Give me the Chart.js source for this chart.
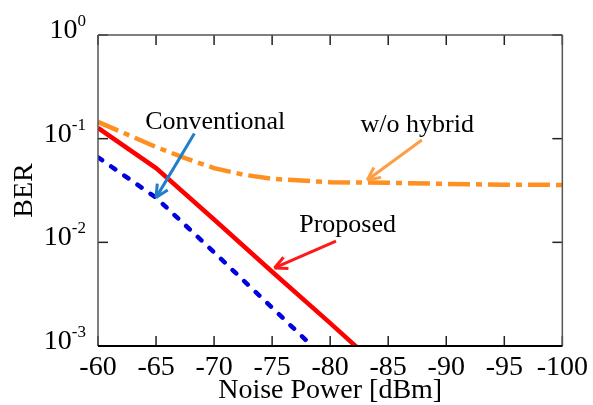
<!DOCTYPE html>
<html>
<head>
<meta charset="utf-8">
<script src="https://cdn.jsdelivr.net/npm/chart.js@4"></script>
<style>
  html, body { margin: 0; padding: 0; background: #fff; }
</style>
</head>
<body>
<canvas id="berChart" width="593" height="405"></canvas>
<script>
// Noise power (dBm) and BER
const noisePower = [-60, -65, -70, -75, -80, -85];
const proposedBer = [0.127, 0.052, 0.0166, 0.0052, 0.00166, 0.00052];
const conventionalBer = [0.066, 0.027, 0.008, 0.00234, 0.00068, 0.0002];
const hybridPower = [-60, -62.5, -65, -67.5, -70, -72.5, -75, -80, -85, -90, -95, -100];
const withoutHybridBer = [0.145, 0.11, 0.083, 0.065, 0.052, 0.045, 0.041, 0.038, 0.0375, 0.0366, 0.036, 0.0358];
const xTicks = [-60, -65, -70, -75, -80, -85, -90, -95, -100];
const yExponents = [0, -1, -2, -3];

// labels with arrows: text anchor and arrow tail/head, in data units
const notes = [
  { text: "Conventional", at: [-70.1, 0.124], from: [-68.3, 0.112], to: [-65.0, 0.027], color: "#1f7fc8" },
  { text: "w/o hybrid", at: [-87.5, 0.116], from: [-87.9, 0.097], to: [-83.2, 0.040], color: "#ff9d45" },
  { text: "Proposed", at: [-81.5, 0.0126], from: [-80.5, 0.0103], to: [-75.2, 0.00566], color: "#ff1a1a" },
];

const toPoints = (xs, ys) => xs.map((x, i) => ({ x: x, y: ys[i] }));
const serif = '"Liberation Serif", "DejaVu Serif", serif';

function line(ctx, x1, y1, x2, y2) {
  ctx.beginPath();
  ctx.moveTo(x1, y1);
  ctx.lineTo(x2, y2);
  ctx.stroke();
}

const framePlugin = {
  id: "frame",
  afterDatasetsDraw(chart) {
    const { ctx, chartArea: a, scales: { x, y } } = chart;
    ctx.save();

    // inward ticks on all four sides
    ctx.strokeStyle = "#222";
    ctx.lineWidth = 1.5;
    xTicks.forEach((v) => {
      const px = x.getPixelForValue(v);
      line(ctx, px, a.bottom, px, a.bottom - 10);
      line(ctx, px, a.top, px, a.top + 10);
    });
    yExponents.forEach((e) => {
      const py = y.getPixelForValue(Math.pow(10, e));
      line(ctx, a.left, py, a.left + 10, py);
      line(ctx, a.right, py, a.right - 10, py);
    });

    // box
    ctx.strokeStyle = "#555";
    line(ctx, a.left, a.top, a.right, a.top);
    line(ctx, a.left, a.top, a.left, a.bottom);
    line(ctx, a.right, a.top, a.right, a.bottom);
    ctx.strokeStyle = "#000";
    ctx.lineWidth = 2;
    line(ctx, a.left, a.bottom, a.right, a.bottom);

    // y tick labels as 10^n
    ctx.fillStyle = "#000";
    ctx.textAlign = "left";
    ctx.textBaseline = "alphabetic";
    yExponents.forEach((e) => {
      const py = y.getPixelForValue(Math.pow(10, e));
      const exp = e === 0 ? "0" : "-" + -e;
      ctx.font = "17px " + serif;
      const ew = ctx.measureText(exp).width;
      ctx.font = "28px " + serif;
      const bw = ctx.measureText("10").width;
      const right = a.left - 12;
      ctx.fillText("10", right - ew - bw, py + 3);
      ctx.font = "17px " + serif;
      ctx.fillText(exp, right - ew, py - 9);
    });

    // annotations
    notes.forEach((n) => {
      const x1 = x.getPixelForValue(n.from[0]), y1 = y.getPixelForValue(n.from[1]);
      const x2 = x.getPixelForValue(n.to[0]), y2 = y.getPixelForValue(n.to[1]);
      ctx.strokeStyle = n.color;
      ctx.lineWidth = 3;
      line(ctx, x1, y1, x2, y2);
      const ang = Math.atan2(y2 - y1, x2 - x1);
      [0.45, -0.45].forEach((d) => {
        line(ctx, x2, y2, x2 - 14 * Math.cos(ang + d), y2 - 14 * Math.sin(ang + d));
      });
      ctx.font = "26px " + serif;
      ctx.textAlign = "center";
      ctx.fillStyle = "#000";
      ctx.fillText(n.text, x.getPixelForValue(n.at[0]), y.getPixelForValue(n.at[1]));
    });

    ctx.restore();
  },
};

const ctx = document.getElementById("berChart").getContext("2d");

new Chart(ctx, {
  type: "line",
  data: {
    datasets: [
      {
        label: "w/o hybrid",
        data: toPoints(hybridPower, withoutHybridBer),
        borderColor: "#ff8f1f",
        borderWidth: 4.5,
        borderDash: [22, 6, 6, 6],
        pointRadius: 0,
      },
      {
        label: "Proposed",
        data: toPoints(noisePower, proposedBer),
        borderColor: "#ff0000",
        borderWidth: 4.5,
        pointRadius: 0,
      },
      {
        label: "Conventional",
        data: toPoints(noisePower, conventionalBer),
        borderColor: "#0000e0",
        borderWidth: 4.5,
        borderDash: [5, 11],
        borderCapStyle: "round",
        pointRadius: 0,
      },
    ],
  },
  options: {
    responsive: false,
    animation: false,
    layout: { padding: { top: 35, right: 29, left: 0, bottom: 0 } },
    plugins: { legend: { display: false }, tooltip: { enabled: false } },
    scales: {
      x: {
        type: "linear",
        reverse: true,
        min: -100,
        max: -60,
        grid: { display: false, drawTicks: false },
        border: { display: false },
        ticks: {
          stepSize: 5,
          autoSkip: false,
          maxRotation: 0,
          padding: 5,
          color: "#000",
          font: { family: serif, size: 28 },
        },
        title: {
          display: true,
          text: "Noise Power [dBm]",
          color: "#000",
          font: { family: serif, size: 28, lineHeight: 1.05 },
          padding: { top: 0, bottom: 0 },
        },
        afterFit(scale) {
          scale.height = 59;
        },
      },
      y: {
        type: "logarithmic",
        min: 0.001,
        max: 1,
        grid: { display: false, drawTicks: false },
        border: { display: false },
        ticks: { display: false },
        title: {
          display: true,
          text: "BER",
          color: "#000",
          font: { family: serif, size: 28 },
          padding: { top: 8, bottom: 0 },
        },
        afterFit(scale) {
          scale.width = 98;
        },
      },
    },
  },
  plugins: [framePlugin],
});
</script>
</body>
</html>
